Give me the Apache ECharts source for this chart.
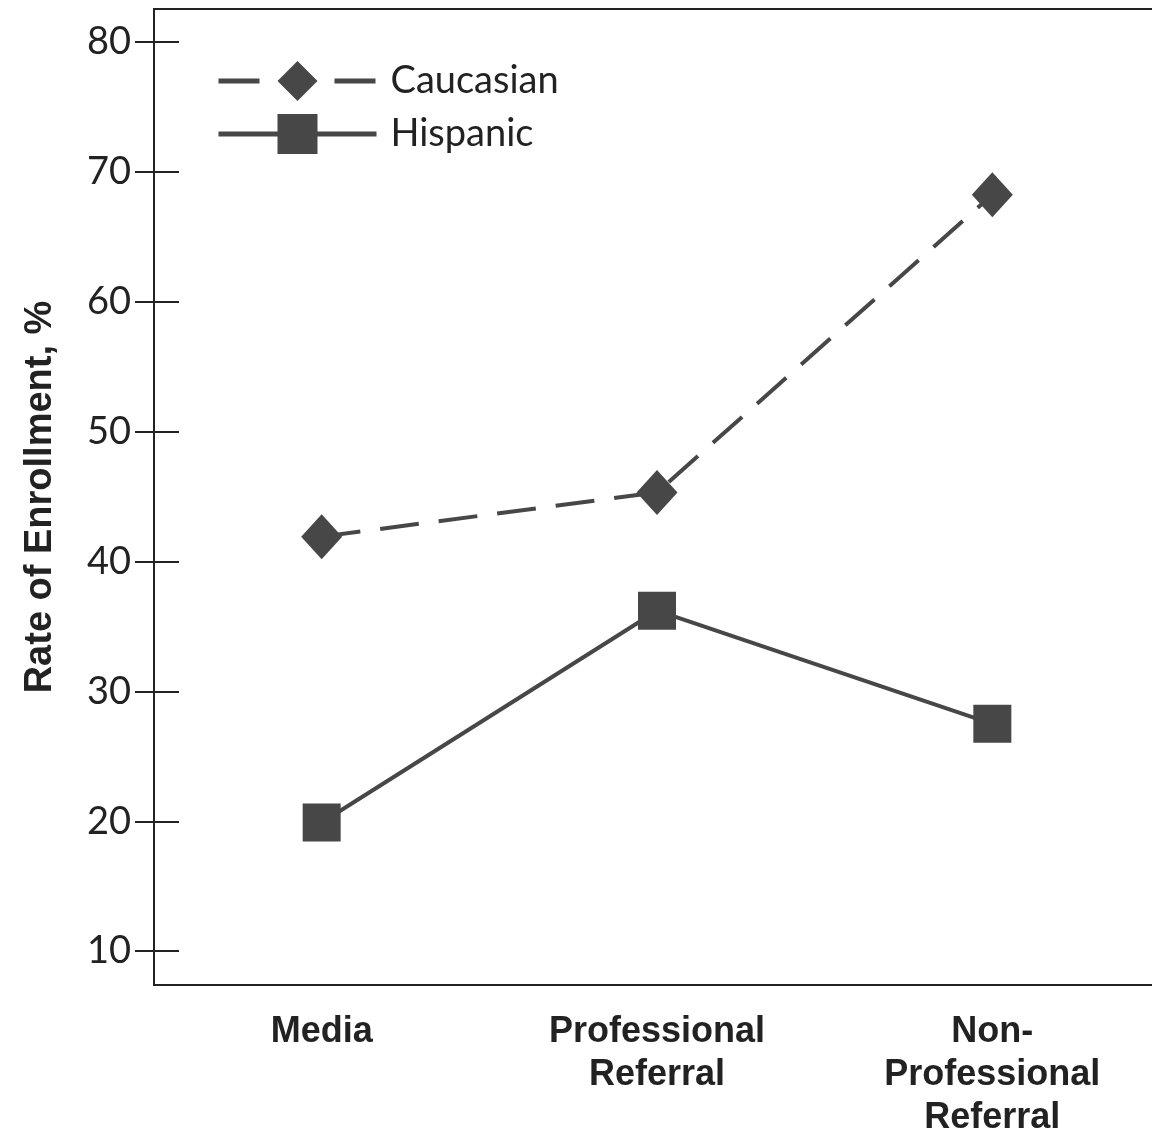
<!DOCTYPE html>
<html>
<head>
<meta charset="utf-8">
<script src="https://cdn.jsdelivr.net/npm/echarts@6/dist/echarts.min.js"></script>
<style>
html,body{margin:0;padding:0;background:#fff;}
#chart{width:1152px;height:1137px;}
</style>
</head>
<body>
<div id="chart"></div>
<script>
const categories = ['Media', 'Professional\nReferral', 'Non-\nProfessional\nReferral'];
const caucasian = [41.9, 45.3, 68.2];
const hispanic = [19.9, 36.2, 27.5];
const yTicks = [10, 20, 30, 40, 50, 60, 70, 80];
const seriesNames = ['Caucasian', 'Hispanic'];

const ink = '#222';
const mark = '#474747';
const lightFont = 'Lato';
const boldFont = 'Liberation Sans';

const chart = echarts.init(document.getElementById('chart'));
const yBase = {
  type: 'value', min: 7.4, max: 82.5, position: 'left',
  splitLine: { show: false },
  axisLine: { show: true, lineStyle: { color: ink, width: 2 } }
};
chart.setOption({
  animation: false,
  backgroundColor: '#fff',
  grid: { left: 154, top: 9, width: 1006, height: 976, outerBoundsMode: 'none', containLabel: false, show: false },
  legend: {
    orient: 'vertical', left: 211, top: 56,
    itemWidth: 158, itemHeight: 50, itemGap: 13,
    data: [
      { name: seriesNames[0], lineStyle: { width: 5, type: [41, 75] } },
      { name: seriesNames[1], lineStyle: { width: 5, type: 'solid' } }
    ],
    textStyle: { fontFamily: lightFont, fontSize: 38, color: ink, padding: [0, 0, 0, 9] }
  },
  xAxis: [
    {
      type: 'category', data: categories, boundaryGap: true, position: 'bottom',
      axisLine: { show: true, lineStyle: { color: ink, width: 2 } },
      axisTick: { show: false },
      axisLabel: { fontFamily: boldFont, fontWeight: 'bold', fontSize: 36, lineHeight: 43, color: ink, margin: 26, interval: 0 }
    },
    {
      type: 'category', data: categories, boundaryGap: true, position: 'top',
      axisLine: { show: true, lineStyle: { color: ink, width: 2 } },
      axisTick: { show: false },
      axisLabel: { show: false }
    }
  ],
  yAxis: [
    Object.assign({}, yBase, {
      name: 'Rate of Enrollment, %', nameLocation: 'middle', nameGap: 94,
      nameTextStyle: { fontFamily: boldFont, fontWeight: 'bold', fontSize: 38, color: ink },
      axisTick: { show: true, length: 19, inside: false, customValues: yTicks, lineStyle: { color: ink, width: 2 } },
      axisLabel: { show: true, customValues: yTicks, fontFamily: lightFont, fontSize: 38, color: ink, margin: 23 }
    }),
    Object.assign({}, yBase, {
      axisTick: { show: true, length: 25, inside: true, customValues: yTicks, lineStyle: { color: ink, width: 2 } },
      axisLabel: { show: false }
    })
  ],
  series: [
    {
      name: seriesNames[0], type: 'line', data: caucasian,
      symbol: 'diamond', symbolSize: [41, 45],
      lineStyle: { color: mark, width: 4, type: [39, 20] },
      itemStyle: { color: mark }
    },
    {
      name: seriesNames[1], type: 'line', data: hispanic,
      symbol: 'rect', symbolSize: 38,
      lineStyle: { color: mark, width: 4, type: 'solid' },
      itemStyle: { color: mark }
    }
  ]
});
</script>
</body>
</html>
